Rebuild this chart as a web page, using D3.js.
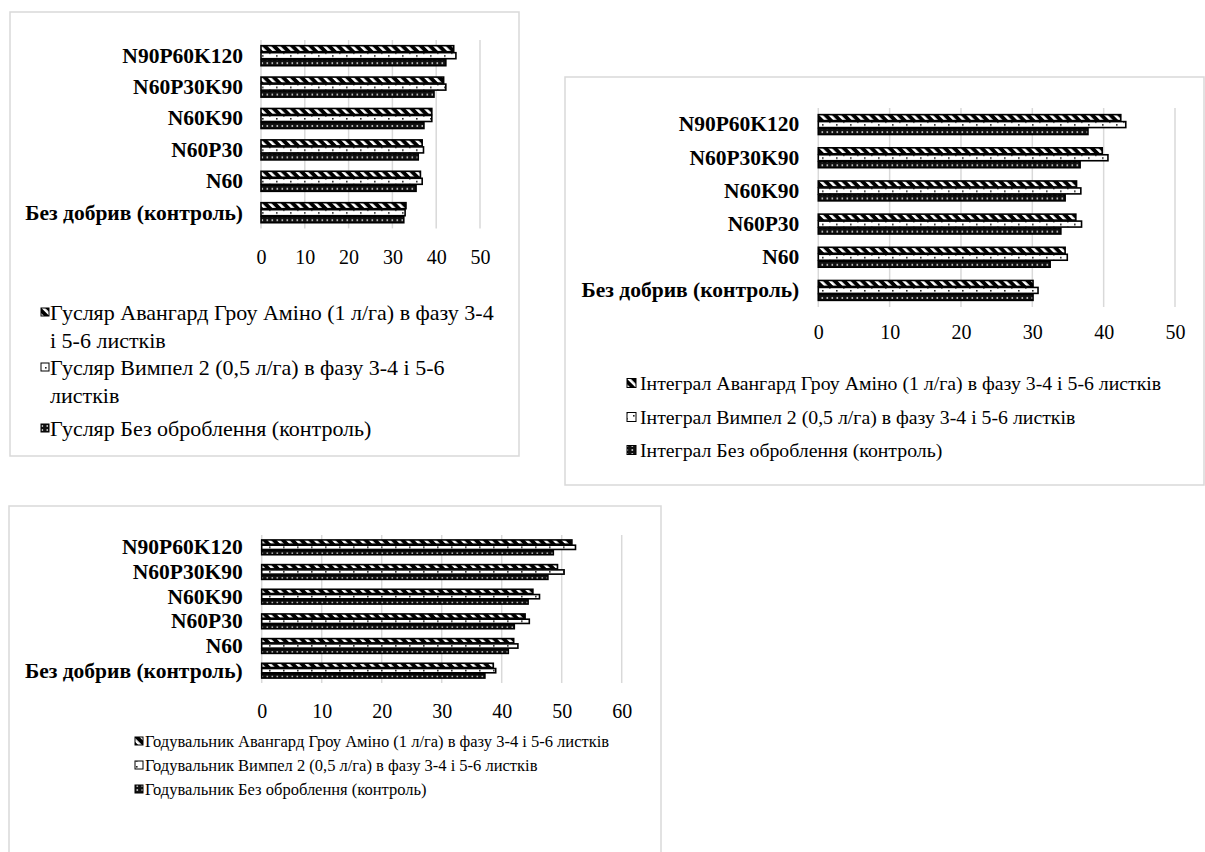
<!DOCTYPE html>
<html><head><meta charset="utf-8">
<script src="https://cdn.jsdelivr.net/npm/d3@7"></script>
<style>
body{margin:0;background:#fff}
svg{display:block}
</style>
</head><body>
<svg id="c" width="1205" height="852"></svg>
<script>
// ---------- DATA ----------
const categories = ["N90P60K120","N60P30K90","N60K90","N60P30","N60","Без добрив (контроль)"];
const seriesKeys = ["avangard","vympel","control"];

const gusliarAvangard = [44.0, 41.7, 39.0, 36.8, 36.4, 33.1];
const gusliarVympel   = [44.5, 42.2, 39.0, 37.1, 36.8, 32.9];
const gusliarControl  = [42.2, 39.5, 37.2, 35.9, 35.4, 32.6];
const gusliarNames = [
  "Гусляр Авангард Гроу Аміно (1 л/га) в фазу 3-4 і 5-6 листків",
  "Гусляр Вимпел 2 (0,5 л/га) в фазу 3-4 і 5-6 листків",
  "Гусляр Без оброблення (контроль)"
];

const integralAvangard = [42.4, 39.8, 36.2, 36.1, 34.6, 30.1];
const integralVympel   = [43.1, 40.6, 36.8, 36.9, 34.9, 30.8];
const integralControl  = [37.8, 36.7, 34.6, 34.0, 32.5, 30.1];
const integralNames = [
  "Інтеграл Авангард Гроу Аміно (1 л/га) в фазу 3-4 і 5-6 листків",
  "Інтеграл Вимпел 2 (0,5 л/га) в фазу 3-4 і 5-6 листків",
  "Інтеграл Без оброблення (контроль)"
];

const hoduvAvangard = [51.7, 49.3, 45.2, 43.9, 42.0, 38.6];
const hoduvVympel   = [52.3, 50.4, 46.3, 44.6, 42.7, 39.0];
const hoduvControl  = [48.6, 47.7, 44.4, 42.1, 41.1, 37.2];
const hoduvNames = [
  "Годувальник Авангард Гроу Аміно (1 л/га) в фазу 3-4 і 5-6 листків",
  "Годувальник Вимпел 2 (0,5 л/га) в фазу 3-4 і 5-6 листків",
  "Годувальник Без оброблення (контроль)"
];

const ticks50 = [0, 10, 20, 30, 40, 50];
const ticks60 = [0, 10, 20, 30, 40, 50, 60];

// ---------- DRAWING ----------
const svg = d3.select("#c");
const FONT = '"Liberation Serif", "Times New Roman", serif';
const defs = svg.append("defs");

const ph = defs.append("pattern").attr("id","p-avangard").attr("patternUnits","userSpaceOnUse")
  .attr("width",6.5).attr("height",6.5).attr("patternTransform","rotate(-45)");
ph.append("rect").attr("width",6.5).attr("height",6.5).attr("fill","#000");
ph.append("rect").attr("width",2.6).attr("height",6.5).attr("fill","#fff");

const pw = defs.append("pattern").attr("id","p-vympel").attr("patternUnits","userSpaceOnUse")
  .attr("width",14).attr("height",6);
pw.append("rect").attr("width",14).attr("height",6).attr("fill","#fff");
pw.append("rect").attr("x",3).attr("y",1).attr("width",1.6).attr("height",1.6).attr("fill","#222");
pw.append("rect").attr("x",10).attr("y",4).attr("width",1.6).attr("height",1.6).attr("fill","#222");

const pd = defs.append("pattern").attr("id","p-control").attr("patternUnits","userSpaceOnUse")
  .attr("width",5).attr("height",4);
pd.append("rect").attr("width",5).attr("height",4).attr("fill","#111");
pd.append("rect").attr("x",1.5).attr("y",1.2).attr("width",1.6).attr("height",1.6).attr("fill","#ddd");

function wrapLines(text, maxChars) {
  const words = text.split(" ");
  const lines = [];
  let cur = "";
  words.forEach(w => {
    const t = cur ? cur + " " + w : w;
    if (t.length > maxChars && cur) { lines.push(cur); cur = w; }
    else cur = t;
  });
  if (cur) lines.push(cur);
  return lines;
}

function drawPanel(p) {
  const g = svg.append("g");
  g.append("rect").attr("x",p.box[0]).attr("y",p.box[1]).attr("width",p.box[2]).attr("height",p.box[3])
    .attr("fill","#fff").attr("stroke","#d9d9d9").attr("stroke-width",1.5);

  const x = d3.scaleLinear().domain([0, p.max]).range([p.x0, p.x1]);
  const y = d3.scaleBand().domain(categories).range([p.y0, p.y1])
    .paddingInner(p.pad).paddingOuter(p.pad/2);
  const yi = d3.scaleBand().domain(seriesKeys).range([0, y.bandwidth()]);

  g.selectAll("line.grid").data(p.ticks).join("line").attr("class","grid")
    .attr("x1",d=>x(d)).attr("x2",d=>x(d)).attr("y1",p.y0).attr("y2",p.y1)
    .attr("stroke","#d9d9d9").attr("stroke-width",1.5);

  const rows = categories.map((c,i)=>({c, vals: seriesKeys.map((k,j)=>({k, v:p.data[j][i]}))}));
  const grp = g.selectAll("g.cat").data(rows).join("g").attr("class","cat")
    .attr("transform",d=>`translate(0,${y(d.c)})`);
  grp.selectAll("rect").data(d=>d.vals).join("rect")
    .attr("x", x(0)).attr("y", d=>yi(d.k)+0.5)
    .attr("width", d=>x(d.v)-x(0)).attr("height", yi.bandwidth()-1)
    .attr("fill", d=>`url(#p-${d.k})`).attr("stroke","#000").attr("stroke-width",1.6);

  const ax = g.append("g").attr("transform",`translate(0,${p.axisY})`)
    .call(d3.axisBottom(x).tickValues(p.ticks).tickSize(0).tickPadding(0).tickFormat(d3.format("d")));
  ax.select(".domain").remove();
  ax.attr("font-family",null).attr("font-size",null);
  ax.selectAll("text").attr("dy","0.35em").attr("y",0).attr("fill","#000")
    .style("font-family",FONT).style("font-size",p.tickFont+"px");

  const ay = g.append("g").attr("transform",`translate(${p.x0},0)`)
    .call(d3.axisLeft(y).tickSize(0).tickPadding(p.catPad));
  ay.select(".domain").remove();
  ay.attr("font-family",null).attr("font-size",null);
  ay.selectAll("text").attr("fill","#000")
    .style("font-family",FONT).style("font-size",p.catFont+"px").style("font-weight","bold");

  p.names.forEach((name,i) => {
    const cy = p.legY[i];
    const s = p.legMarker;
    g.append("rect").attr("x",p.legMX).attr("y",cy - s/2).attr("width",s).attr("height",s)
      .attr("fill",`url(#p-${seriesKeys[i]})`).attr("stroke","#000").attr("stroke-width",1);
    const lines = wrapLines(name, p.legChars);
    const t = g.append("text").attr("fill","#000")
      .style("font-family",FONT).style("font-size",p.legFont+"px");
    lines.forEach((ln,k) => {
      t.append("tspan").attr("x",p.legTX).attr("y",cy + k*p.legLH).attr("dy","0.35em").text(ln);
    });
  });
}

drawPanel({
  box:[10,12,509,444], max:50, ticks:ticks50,
  x0:261, x1:480, y0:40, y1:228.4, pad:0.33, axisY:257,
  tickFont:20, catFont:21.5, catPad:18,
  data:[gusliarAvangard, gusliarVympel, gusliarControl], names:gusliarNames,
  legMX:41, legTX:50, legY:[312,367,428], legMarker:8, legFont:22, legChars:46, legLH:28
});

drawPanel({
  box:[565,77,639,408], max:50, ticks:ticks50,
  x0:818.3, x1:1175, y0:108, y1:307, pad:0.37, axisY:332,
  tickFont:20, catFont:21.5, catPad:19,
  data:[integralAvangard, integralVympel, integralControl], names:integralNames,
  legMX:627, legTX:640, legY:[383,417,450], legMarker:9, legFont:19.8, legChars:200, legLH:24
});

drawPanel({
  box:[9,506,652,360], max:60, ticks:ticks60,
  x0:261.7, x1:621.7, y0:535, y1:683, pad:0.36, axisY:711,
  tickFont:20, catFont:21.5, catPad:19,
  data:[hoduvAvangard, hoduvVympel, hoduvControl], names:hoduvNames,
  legMX:135, legTX:145, legY:[741,765,789], legMarker:8, legFont:16.5, legChars:200, legLH:22
});
</script>
</body></html>
